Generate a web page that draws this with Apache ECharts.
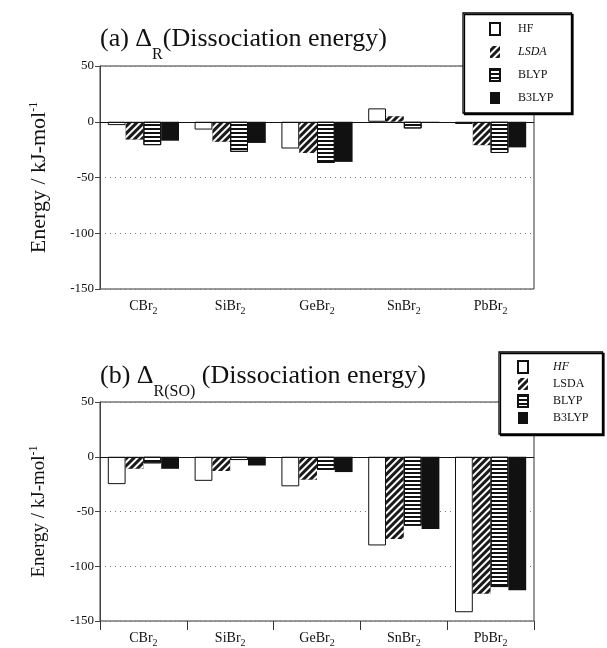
<!DOCTYPE html>
<html><head><meta charset="utf-8">
<script src="https://cdn.jsdelivr.net/npm/echarts@6/dist/echarts.min.js"></script>
<style>html,body{margin:0;padding:0;background:#fff}#c{width:607px;height:648px}</style>
</head><body><div id="c"></div>
<script>
// ---- data ----
const categories = ['CBr', 'SiBr', 'GeBr', 'SnBr', 'PbBr'];
const methods = ['HF', 'LSDA', 'BLYP', 'B3LYP'];
const yTickValues = [-150, -100, -50, 0, 50];
// (a) Delta_R (Dissociation energy)
const hfA    = [-3, -7, -24, 12, -2];
const lsdaA  = [-16, -18, -28, 5, -21];
const blypA  = [-21, -27, -37, -6, -28];
const b3lypA = [-17, -19, -36, -1, -23];
// (b) Delta_R(SO) (Dissociation energy)
const hfB    = [-25, -22, -27, -81, -142];
const lsdaB  = [-11, -13, -21, -75, -125];
const blypB  = [-6, -3, -12, -63, -119];
const b3lypB = [-11, -8, -14, -66, -122];

const FONT = '"Liberation Serif", "DejaVu Serif", serif';
const INK = '#111';

const styles = {
  HF: { color: '#fff', borderColor: INK, borderWidth: 1 },
  LSDA: { color: '#1a1a1a', decal: { symbol: 'rect', symbolSize: 1, color: '#fff',
          dashArrayX: [1, 0], dashArrayY: [2, 3], rotation: -Math.PI / 4 } },
  BLYP: { color: '#fff', borderColor: INK, borderWidth: 1, decal: { symbol: 'rect', symbolSize: 1, color: INK,
          dashArrayX: [1, 0], dashArrayY: [2, 2], rotation: 0 } },
  B3LYP: { color: INK }
};

const setA = [hfA, lsdaA, blypA, b3lypA];
const setB = [hfB, lsdaB, blypB, b3lypB];

function makeSeries(sets, idx) {
  return methods.map((m, i) => {
    const s = {
      name: m, type: 'bar', xAxisIndex: idx, yAxisIndex: idx,
      data: sets[i], barGap: '0%', barCategoryGap: '18%',
      itemStyle: Object.assign({}, styles[m]), silent: true
    };
    if (i === 0) {
      s.markLine = { silent: true, symbol: 'none', label: { show: false },
        lineStyle: { color: INK, type: 'solid', width: 1 },
        data: [{ yAxis: 0 }] };
    }
    return s;
  });
}

function xAxis(idx, ticks) {
  return {
    type: 'category', gridIndex: idx, data: categories,
    axisLine: { show: false, onZero: false },
    axisTick: { show: ticks, inside: false, length: 9, lineStyle: { color: '#333' } },
    axisLabel: { margin: 7, color: INK, fontFamily: FONT, fontSize: 14,
      formatter: v => v + '{s|2}',
      rich: { s: { fontFamily: FONT, fontSize: 10, padding: [10, 0, 0, 0], verticalAlign: 'middle' } } },
    splitLine: { show: false }
  };
}

function yAxis(idx, nameSize) {
  return {
    type: 'value', gridIndex: idx, min: yTickValues[0], max: yTickValues[yTickValues.length - 1], interval: 50,
    name: '{m|Energy / kJ-mol}{p|-1}', nameLocation: 'middle', nameGap: 50,
    nameTextStyle: { color: INK, fontFamily: FONT, fontSize: nameSize,
      rich: { m: { fontFamily: FONT, fontSize: nameSize, verticalAlign: 'middle' },
              p: { fontFamily: FONT, fontSize: 12, padding: [0, 0, 10, 0], verticalAlign: 'middle' } } },
    axisLine: { show: true, lineStyle: { color: '#444' } },
    axisTick: { show: true, length: 5, lineStyle: { color: '#444' } },
    axisLabel: { margin: 6, color: INK, fontFamily: FONT, fontSize: 13 },
    splitLine: { show: true, lineStyle: { type: [1, 4], color: '#777' } }
  };
}

function legend(left, top, gap, pad, textPad, italicName) {
  return {
    data: methods.map(m => ({ name: m, icon: 'rect' })), orient: 'vertical', left: left, top: top,
    itemWidth: 10, itemHeight: 12, itemGap: gap, padding: pad,
    backgroundColor: '#fff', borderColor: '#000', borderWidth: 1.3,
    shadowColor: '#000', shadowBlur: 0, shadowOffsetX: 1.5, shadowOffsetY: 1.5,
    selectedMode: false,
    textStyle: { color: INK, fontFamily: FONT, fontSize: 12,
      rich: { n: { fontFamily: FONT, fontSize: 12, padding: [0, 0, 0, textPad] },
              i: { fontFamily: FONT, fontSize: 12, fontStyle: 'italic', padding: [0, 0, 0, textPad] } } },
    formatter: name => (name === italicName ? '{i|' + name + '}' : '{n|' + name + '}')
  };
}

function title(text, top) {
  return {
    text: text, left: 100, top: top, padding: 0,
    textStyle: { fontFamily: FONT, fontSize: 26, fontWeight: 'normal', color: INK,
      rich: { m: { fontFamily: FONT, fontSize: 26, verticalAlign: 'middle' },
              s: { fontFamily: FONT, fontSize: 16, padding: [32, 0, 0, 0], verticalAlign: 'middle' } } }
  };
}

const chart = echarts.init(document.getElementById('c'), null, { renderer: 'canvas' });
chart.setOption({
  animation: false,
  backgroundColor: '#fff',
  title: [
    title('{m|(a) Δ}{s|R}{m|(Dissociation energy)}', 15),
    title('{m|(b) Δ}{s|R(SO)}{m| (Dissociation energy)}', 352)
  ],
  legend: [
    legend(463, 13, 10, [9, 18, 9, 26], 13, 'LSDA'),
    legend(499, 352, 4, [8, 14, 10, 18], 20, 'HF')
  ],
  grid: [
    { left: 100, width: 434, top: 66, height: 223, show: true, borderColor: '#333', borderWidth: 1, backgroundColor: 'transparent' },
    { left: 100, width: 434, top: 402, height: 222, show: true, borderColor: '#333', borderWidth: 1, backgroundColor: 'transparent' }
  ],
  xAxis: [xAxis(0, false), xAxis(1, true)],
  yAxis: [yAxis(0, 22), yAxis(1, 19)],
  series: makeSeries(setA, 0).concat(makeSeries(setB, 1))
});
</script>
</body></html>
